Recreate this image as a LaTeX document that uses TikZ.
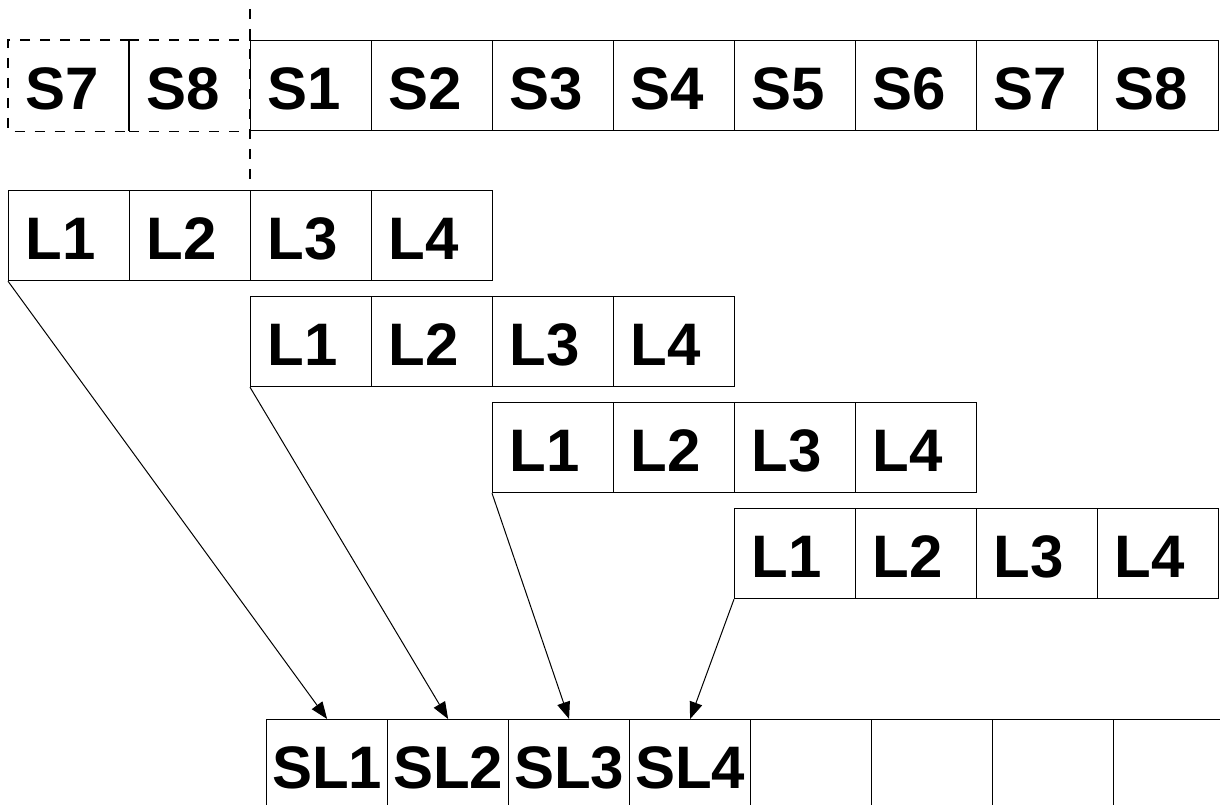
\documentclass[tikz,border=0pt]{standalone}
\usepackage{fontspec}
\setmainfont{Liberation Sans}
\usetikzlibrary{arrows.meta}
\tikzset{
  lw/.style={line width=1.2pt},
  cellbase/.style={lw, minimum width=121pt, minimum height=90pt, inner ysep=0pt,
    text height=48pt, text depth=0pt, anchor=north west,
    font=\fontsize{60}{60}\selectfont\bfseries},
  cell/.style={cellbase, draw, inner xsep=17pt, text width=87pt, align=left},
  ghost/.style={cellbase, inner xsep=17pt, text width=87pt, align=left},
  slcell/.style={cellbase, draw, inner xsep=0pt},
  dashline/.style={lw, dash pattern=on 10pt off 10pt},
  arr/.style={line width=1pt, -{Triangle[length=17pt,width=13pt]}}
}
\begin{document}
\begin{tikzpicture}[x=1pt,y=-1pt]
\clip (0,0) rectangle (1220,805);
\fill[white] (0,0) rectangle (1220,805);
% ghost cells (wrap-around)
\node[ghost] (s7d) at (8,40) {S7};
\node[ghost] (s8d) at (129,40) {S8};
\draw[dashline] (s7d.north east) -- (s7d.north west) -- (s7d.south west) -- (s7d.south east);
\draw[dashline] (s8d.north west) -- (s8d.north east);
\draw[dashline] (s8d.south west) -- (s8d.south east);
\draw[lw] (s8d.north west) -- (s8d.south west);
% top row
\foreach \i in {1,...,8} {
  \node[cell] (s\i) at ({250+121*(\i-1)},40) {S\i};
}
% dashed separator
\coordinate (sepTop) at (250,9);
\coordinate (sepBot) at (250,184);
\draw[dashline] (sepTop) -- (sepBot);
% L rows
\foreach \r/\x/\y in {a/8/190, b/250/296, c/492/402, d/734/508} {
  \foreach \i in {1,...,4} {
    \node[cell] (l\r\i) at ({\x+121*(\i-1)},\y) {L\i};
  }
}
% bottom row
\foreach \i in {1,...,4} {
  \node[slcell] (sl\i) at ({266+121*(\i-1)},719) {SL\i};
}
\foreach \i in {5,...,8} {
  \node[slcell] (sl\i) at ({266+121*(\i-1)},719) {};
}
% arrows
\draw[arr] (la1.south west) -- (sl1.north);
\draw[arr] (lb1.south west) -- (sl2.north);
\draw[arr] (lc1.south west) -- (sl3.north);
\draw[arr] (ld1.south west) -- (sl4.north);
\end{tikzpicture}
\end{document}
